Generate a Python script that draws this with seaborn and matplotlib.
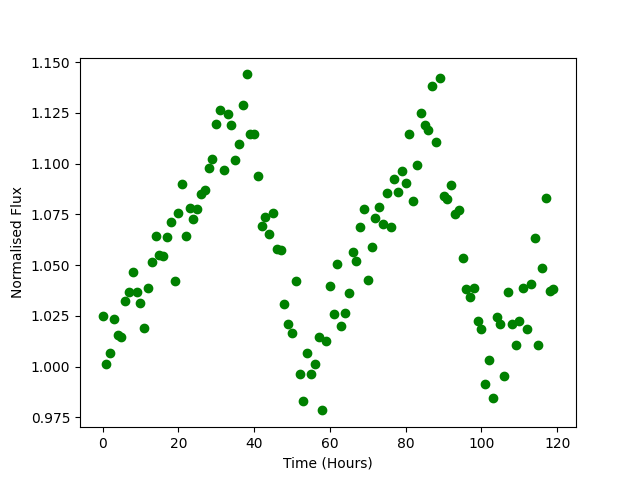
import matplotlib
matplotlib.use("Agg")
import matplotlib.pyplot as plt
import seaborn as sns
import numpy as np
import pandas as pd

hours = list(range(120))
flux = [
    1.0251, 1.0011, 1.0069, 1.0233, 1.0157, 1.0144, 1.0322, 1.0366, 1.0465, 1.0366,
    1.0315, 1.0188, 1.0389, 1.0514, 1.0642, 1.0550, 1.0544, 1.0637, 1.0710, 1.0420,
    1.0754, 1.0897, 1.0641, 1.0779, 1.0729, 1.0774, 1.0848, 1.0872, 1.0976, 1.1020,
    1.1194, 1.1262, 1.0966, 1.1244, 1.1188, 1.1017, 1.1094, 1.1288, 1.1439, 1.1145,
    1.1145, 1.0941, 1.0692, 1.0739, 1.0652, 1.0754, 1.0578, 1.0572, 1.0310, 1.0212,
    1.0167, 1.0419, 0.9962, 0.9829, 1.0069, 0.9965, 1.0015, 1.0144, 0.9784, 1.0128,
    1.0399, 1.0261, 1.0504, 1.0199, 1.0266, 1.0361, 1.0562, 1.0518, 1.0687, 1.0774,
    1.0425, 1.0587, 1.0730, 1.0785, 1.0701, 1.0853, 1.0685, 1.0922, 1.0861, 1.0963,
    1.0902, 1.1145, 1.0813, 1.0991, 1.1247, 1.1188, 1.1166, 1.1380, 1.1104, 1.1420,
    1.0839, 1.0823, 1.0892, 1.0752, 1.0769, 1.0537, 1.0384, 1.0345, 1.0389, 1.0223,
    1.0187, 0.9913, 1.0030, 0.9847, 1.0244, 1.0212, 0.9952, 1.0365, 1.0210, 1.0108,
    1.0222, 1.0387, 1.0184, 1.0409, 1.0631, 1.0108, 1.0483, 1.0830, 1.0370, 1.0382,
]

df = pd.DataFrame({"Time (Hours)": hours, "Normalised Flux": flux})

fig, ax = plt.subplots(figsize=(6.4, 4.8), dpi=100)
sns.scatterplot(data=df, x="Time (Hours)", y="Normalised Flux", ax=ax,
                color="green", s=36, edgecolor="green", linewidth=1)
ax.set_xlabel("Time (Hours)")
ax.set_ylabel("Normalised Flux")
ax.set_xticks([0, 20, 40, 60, 80, 100, 120])
ax.yaxis.set_major_formatter(matplotlib.ticker.FormatStrFormatter("%.3f"))
fig.savefig("out.png", dpi=100)
